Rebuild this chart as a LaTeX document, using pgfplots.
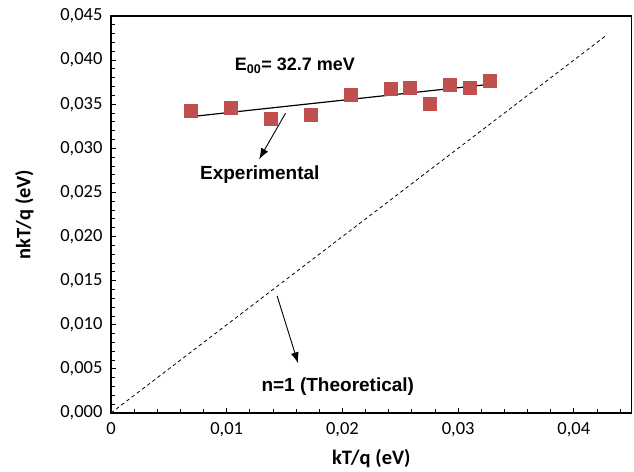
\documentclass[border=0pt]{standalone}
\usepackage{fontspec}
\setmainfont{Carlito}
\newfontfamily\annofont{Liberation Sans}
\usepackage{pgfplots}
\pgfplotsset{compat=1.18}
\usetikzlibrary{arrows.meta}
\definecolor{expred}{HTML}{C0504D}

\begin{document}
\begin{tikzpicture}[x=1pt,y=1pt]
\begin{axis}[
  at={(111pt,58pt)}, anchor=south west,
  scale only axis, width=520.7pt, height=397pt,
  xmin=0, xmax=0.045, ymin=0, ymax=0.045,
  xtick={0,0.01,0.02,0.03,0.04},
  ytick={0,0.005,...,0.0451},
  minor xtick={0.002,0.004,...,0.045},
  minor ytick={0.001,0.002,...,0.045},
  tick align=inside,
  xtick pos=bottom, ytick pos=left,
  major tick length=5pt, minor tick length=4pt,
  axis line style={line width=1.3pt},
  every tick/.style={black, line width=0.9pt},
  every minor tick/.style={black, line width=0.9pt},
  scaled ticks=false,
  /pgf/number format/assume math mode=true,
  /pgf/number format/use comma,
  yticklabel style={/pgf/number format/fixed, /pgf/number format/fixed zerofill,
    /pgf/number format/precision=3, xshift=-5pt},
  xticklabel style={/pgf/number format/fixed, /pgf/number format/precision=2, yshift=-6pt},
  tick label style={font=\fontsize{18.5}{21}\selectfont},
  xlabel={\fontsize{20.5}{24}\selectfont\bfseries kT/q (eV)},
  ylabel={\fontsize{20.5}{24}\selectfont\bfseries nkT/q (eV)},
  xlabel style={yshift=-6pt},
  ylabel style={yshift=20pt},
  clip=false,
]
% ideal diode, n = 1
\addplot[black, line width=0.8pt, dash pattern=on 3.5pt off 3pt] coordinates {(0,0) (0.0428,0.0428)};
% measured values
\addplot[only marks, mark=square*, mark size=6.5pt, color=expred] coordinates {
  (0.00689,0.03427) (0.01034,0.03465) (0.01379,0.03333) (0.01723,0.03386)
  (0.02068,0.03605) (0.02413,0.03676) (0.02585,0.03684) (0.02757,0.03503)
  (0.02930,0.03721) (0.03102,0.03684) (0.03274,0.03763)
};
% linear fit
\addplot[black, line width=1.2pt] coordinates {(0.00689,0.03359) (0.03274,0.03726)};

\node[font=\annofont\fontsize{18}{20}\selectfont\bfseries] at (axis cs:0.01589,0.03933) {E\textsubscript{00}= 32.7 meV};
\node[font=\annofont\fontsize{19}{21}\selectfont\bfseries] at (axis cs:0.01286,0.02698) {Experimental};
\node[font=\annofont\fontsize{19}{21}\selectfont\bfseries] at (axis cs:0.01960,0.00295) {n=1 (Theoretical)};
\draw[line width=0.9pt, -{Latex[length=11pt,width=8pt]}] (axis cs:0.01508,0.03397) -- (axis cs:0.01280,0.02876);
\draw[line width=0.9pt, -{Latex[length=11pt,width=8pt]}] (axis cs:0.01436,0.01326) -- (axis cs:0.01617,0.00563);
\end{axis}
\pgfresetboundingbox
\path (0,0) rectangle (634,471);
\end{tikzpicture}
\end{document}
